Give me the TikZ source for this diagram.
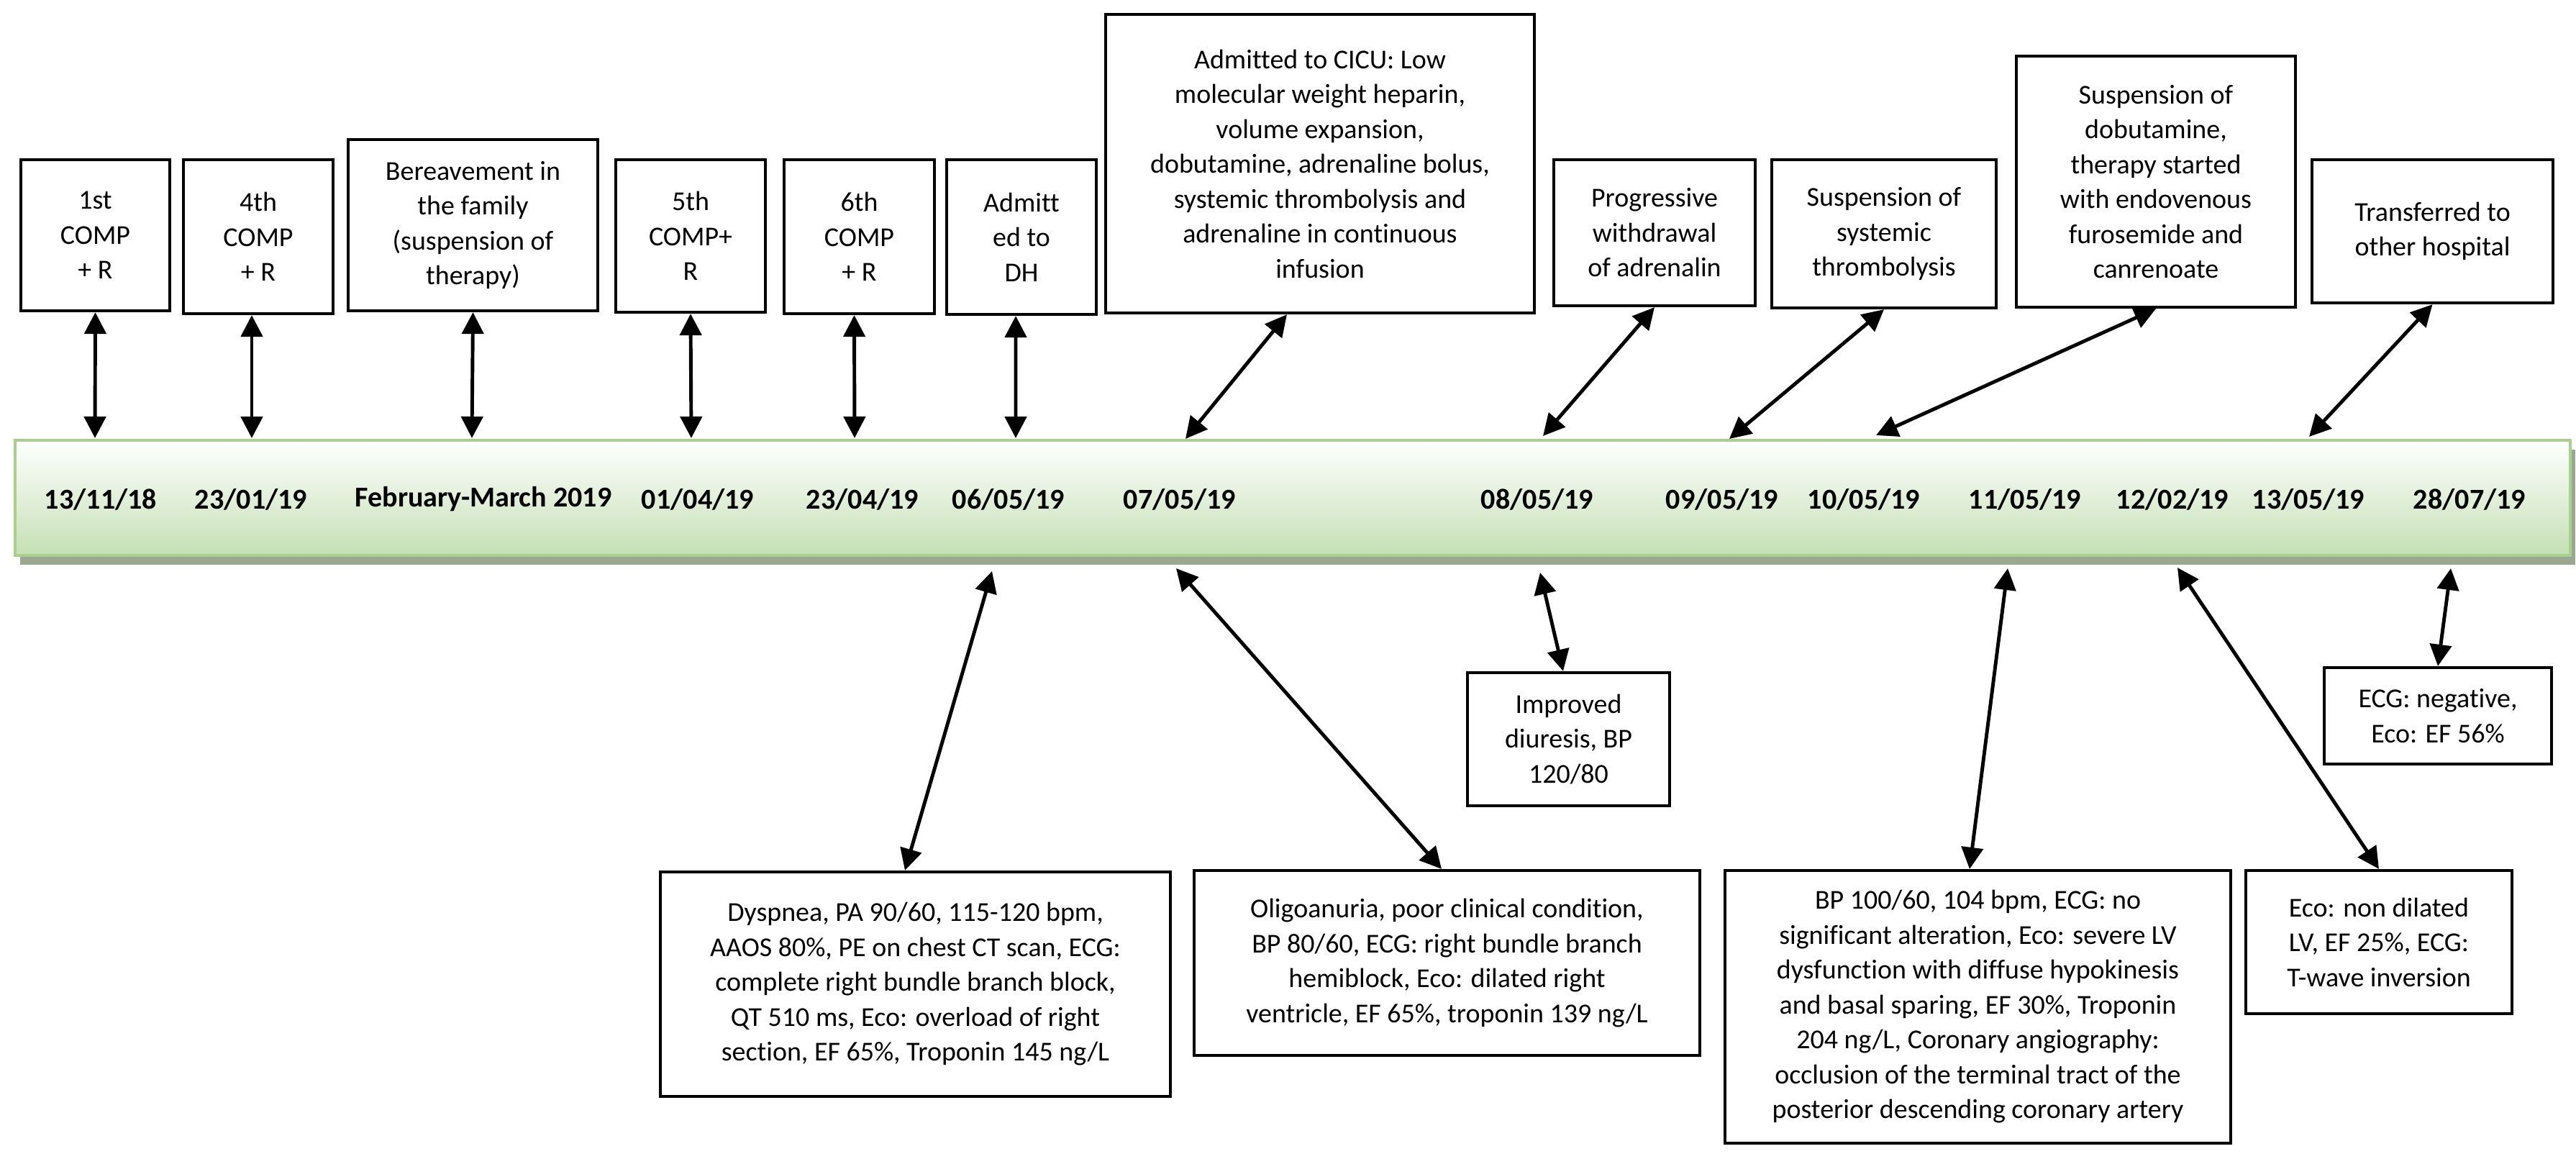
\documentclass[tikz,border=0pt]{standalone}
\usepackage{fontspec}
\setmainfont{Carlito}[Ligatures=NoCommon]
\usetikzlibrary{arrows.meta,shadows}
\definecolor{barline}{RGB}{169,209,142}
\definecolor{barfill}{RGB}{197,224,180}
\definecolor{barshadow}{RGB}{155,168,144}

\begin{document}
\begin{tikzpicture}
\useasboundingbox (0,0) rectangle (35.81,-16.11);

% timeline bar
\node (bar) [draw=barline, line width=1.2pt, top color=white, bottom color=barfill,
    minimum width=35.52cm, minimum height=1.6cm, inner sep=0pt,
    drop shadow={shadow xshift=0.07cm, shadow yshift=-0.13cm, fill=barshadow, opacity=1}]
    at (17.97,-6.92) {};

\begin{scope}[every node/.style={font=\bfseries\fontsize{11.4}{13}\selectfont}]
    \node (m1) at (1.40,-6.94) {13/11/18};
    \node (m2) at (3.49,-6.94) {23/01/19};
    \node (m3) at (6.72,-6.94) {February-March 2019};
    \node (m4) at (9.70,-6.94) {01/04/19};
    \node (m5) at (11.99,-6.94) {23/04/19};
    \node (m6) at (14.02,-6.94) {06/05/19};
    \node (m7) at (16.40,-6.94) {07/05/19};
    \node (m8) at (21.37,-6.94) {08/05/19};
    \node (m9) at (23.94,-6.94) {09/05/19};
    \node (m10) at (25.91,-6.94) {10/05/19};
    \node (m11) at (28.15,-6.94) {11/05/19};
    \node (m12) at (30.20,-6.94) {12/02/19};
    \node (m13) at (32.09,-6.94) {13/05/19};
    \node (m14) at (34.33,-6.94) {28/07/19};
\end{scope}

\begin{scope}[every node/.style={draw, line width=1.2pt, align=center, inner sep=0pt,
    font=\fontsize{10.8}{13.8}\selectfont}]
    % above the bar
    \node (t1) [minimum width=2.07cm, minimum height=2.10cm] at (1.325,-3.27) {1st\\COMP\\+ R};
    \node (t2) [minimum width=2.08cm, minimum height=2.14cm] at (3.59,-3.29) {4th\\COMP\\+ R};
    \node (t3) [minimum width=3.47cm, minimum height=2.38cm] at (6.575,-3.13) {Bereavement in\\the family\\(suspension of\\therapy)};
    \node (t4) [minimum width=2.08cm, minimum height=2.12cm] at (9.60,-3.28) {5th\\COMP+\\R};
    \node (t5) [minimum width=2.09cm, minimum height=2.14cm] at (11.945,-3.29) {6th\\COMP\\+ R};
    \node (t6) [minimum width=2.08cm, minimum height=2.15cm] at (14.20,-3.295) {Admitt\\ed to\\DH};
    \node (t7) [minimum width=5.96cm, minimum height=4.15cm] at (18.35,-2.275) {Admitted to CICU: Low\\molecular weight heparin,\\volume expansion,\\dobutamine, adrenaline bolus,\\systemic thrombolysis and\\adrenaline in continuous\\infusion};
    \node (t8) [minimum width=2.80cm, minimum height=2.03cm] at (23.00,-3.235) {Progressive\\withdrawal\\of adrenalin};
    \node (t9) [minimum width=3.12cm, minimum height=2.06cm] at (26.19,-3.25) {Suspension of\\systemic\\thrombolysis};
    \node (t10) [minimum width=3.88cm, minimum height=3.49cm] at (29.97,-2.525) {Suspension of\\dobutamine,\\therapy started\\with endovenous\\furosemide and\\canrenoate};
    \node (t11) [minimum width=3.35cm, minimum height=1.99cm] at (33.815,-3.215) {Transferred to\\other hospital};
    % below the bar
    \node (b1) [minimum width=7.09cm, minimum height=3.12cm] at (12.725,-13.68) {Dyspnea, PA 90/60, 115-120 bpm,\\AAOS 80\%, PE on chest CT scan, ECG:\\complete right bundle branch block,\\QT 510 ms, Eco: overload of right\\section, EF 65\%, Troponin 145 ng/L};
    \node (b2) [minimum width=7.03cm, minimum height=2.57cm] at (20.115,-13.385) {Oligoanuria, poor clinical condition,\\BP 80/60, ECG: right bundle branch\\hemiblock, Eco: dilated right\\ventricle, EF 65\%, troponin 139 ng/L};
    \node (b3) [minimum width=2.81cm, minimum height=1.85cm] at (21.805,-10.275) {Improved\\diuresis, BP\\120/80};
    \node (b4) [minimum width=7.03cm, minimum height=3.79cm] at (27.495,-13.995) {BP 100/60, 104 bpm, ECG: no\\significant alteration, Eco: severe LV\\dysfunction with diffuse hypokinesis\\and basal sparing, EF 30\%, Troponin\\204 ng/L, Coronary angiography:\\occlusion of the terminal tract of the\\posterior descending coronary artery};
    \node (b5) [minimum width=3.70cm, minimum height=1.99cm] at (33.07,-13.095) {Eco: non dilated\\LV, EF 25\%, ECG:\\T-wave inversion};
    \node (b6) [minimum width=3.16cm, minimum height=1.34cm] at (33.89,-9.95) {ECG: negative,\\Eco: EF 56\%};
\end{scope}

\coordinate (u1) at (1.32,-6.09);
\coordinate (u2) at (3.50,-6.09);
\coordinate (u3) at (6.56,-6.09);
\coordinate (u4) at (9.61,-6.09);
\coordinate (u5) at (11.88,-6.09);
\coordinate (u6) at (14.12,-6.09);
\coordinate (u7) at (16.48,-6.10);
\coordinate (u8) at (21.45,-6.06);
\coordinate (u9) at (24.04,-6.10);
\coordinate (u10) at (26.08,-6.05);
\coordinate (u11) at (32.10,-6.07);

\coordinate (l1) at (13.79,-7.94);
\coordinate (l2) at (16.35,-7.90);
\coordinate (l3) at (21.41,-7.96);
\coordinate (l4) at (27.91,-7.90);
\coordinate (l5) at (30.27,-7.89);
\coordinate (l6) at (34.07,-7.90);

\begin{scope}[>={Triangle[length=0.3cm,width=0.3cm]},
    every edge/.style={draw=black, line width=1.4pt}]
    \path [<->] (t1.south) edge (u1);
    \path [<->] ([xshift=-0.09cm]t2.south) edge (u2);
    \path [<->] (t3.south) edge (u3);
    \path [<->] (t4.south) edge (u4);
    \path [<->] ([xshift=-0.07cm]t5.south) edge (u5);
    \path [<->] ([xshift=-0.08cm]t6.south) edge (u6);
    \path [<->] ([xshift=-0.46cm]t7.south) edge (u7);
    \path [<->] (t8.south) edge (u8);
    \path [<->] (t9.south) edge (u9);
    \path [<->] (t10.south) edge (u10);
    \path [<->] (t11.south) edge (u11);

    \path [<->] (l1) edge ([xshift=-0.145cm]b1.north);
    \path [<->] (l2) edge ([xshift=-0.075cm]b2.north);
    \path [<->] (l3) edge ([xshift=-0.075cm]b3.north);
    \path [<->] (l4) edge ([xshift=-0.115cm]b4.north);
    \path [<->] (l5) edge (b5.north);
    \path [<->] (l6) edge (b6.north);
\end{scope}
\end{tikzpicture}
\end{document}
